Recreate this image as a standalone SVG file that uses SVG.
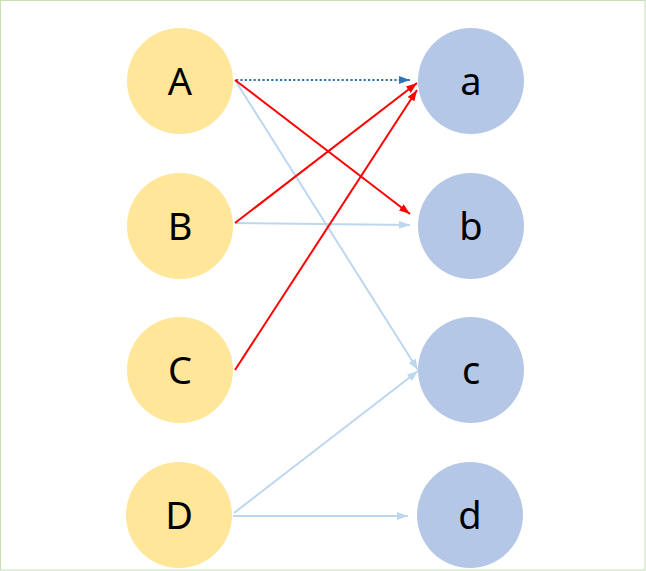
<svg xmlns="http://www.w3.org/2000/svg" width="646" height="571" viewBox="0 0 646 571">
<style>
.src{fill:#FFE699}
.dst{fill:#B4C7E7}
.lbl{font-family:"Noto Sans","Open Sans","DejaVu Sans",sans-serif;font-size:38px;fill:#000;text-anchor:middle}
.red{stroke:#FF0000;stroke-width:2;fill:none}
.lb{stroke:#BDD7EE;stroke-width:2;fill:none}
.dot{stroke:#2E75B6;stroke-width:2.2;stroke-dasharray:2.2 2.2;fill:none}
</style>
<defs>
<marker id="mr" markerUnits="userSpaceOnUse" markerWidth="11" markerHeight="8" refX="11" refY="4" orient="auto"><path d="M0,0 L11,4 L0,8 Z" fill="#FF0000"/></marker>
<marker id="ml" markerUnits="userSpaceOnUse" markerWidth="11" markerHeight="8" refX="11" refY="4" orient="auto"><path d="M0,0 L11,4 L0,8 Z" fill="#BDD7EE"/></marker>
<marker id="md" markerUnits="userSpaceOnUse" markerWidth="11" markerHeight="8" refX="11" refY="4" orient="auto"><path d="M0,0 L11,4 L0,8 Z" fill="#2E75B6"/></marker>
</defs>
<rect x="0.5" y="0.5" width="644.5" height="569.5" fill="#FFFFFF" stroke="#C5E0B4" stroke-width="1"/>
<g id="node-A"><circle class="src" cx="180" cy="81" r="53"/><text class="lbl" x="180" y="95">A</text></g>
<g id="node-B"><circle class="src" cx="180" cy="226" r="53"/><text class="lbl" x="180" y="240">B</text></g>
<g id="node-C"><circle class="src" cx="180" cy="370" r="53"/><text class="lbl" x="180" y="384">C</text></g>
<g id="node-D"><circle class="src" cx="179" cy="515" r="53"/><text class="lbl" x="179" y="529">D</text></g>
<g id="node-a"><circle class="dst" cx="471" cy="81" r="53"/><text class="lbl" x="471" y="95">a</text></g>
<g id="node-b"><circle class="dst" cx="471" cy="226" r="53"/><text class="lbl" x="471" y="240">b</text></g>
<g id="node-c"><circle class="dst" cx="471" cy="370" r="53"/><text class="lbl" x="471" y="384">c</text></g>
<g id="node-d"><circle class="dst" cx="470" cy="515" r="53"/><text class="lbl" x="470" y="529">d</text></g>
<g id="connectors">
<line class="lb" x1="235" y1="80" x2="418" y2="370" marker-end="url(#ml)"/>
<line class="lb" x1="235" y1="223" x2="410" y2="225" marker-end="url(#ml)"/>
<line class="lb" x1="234" y1="513" x2="418" y2="371" marker-end="url(#ml)"/>
<line class="lb" x1="233" y1="516" x2="408" y2="516" marker-end="url(#ml)"/>
<line class="dot" x1="236" y1="80" x2="410" y2="80" marker-end="url(#md)"/>
<line class="red" x1="235" y1="80" x2="410" y2="214" marker-end="url(#mr)"/>
<line class="red" x1="235" y1="223" x2="417" y2="83" marker-end="url(#mr)"/>
<line class="red" x1="235" y1="370" x2="417" y2="90" marker-end="url(#mr)"/>
</g>
</svg>
